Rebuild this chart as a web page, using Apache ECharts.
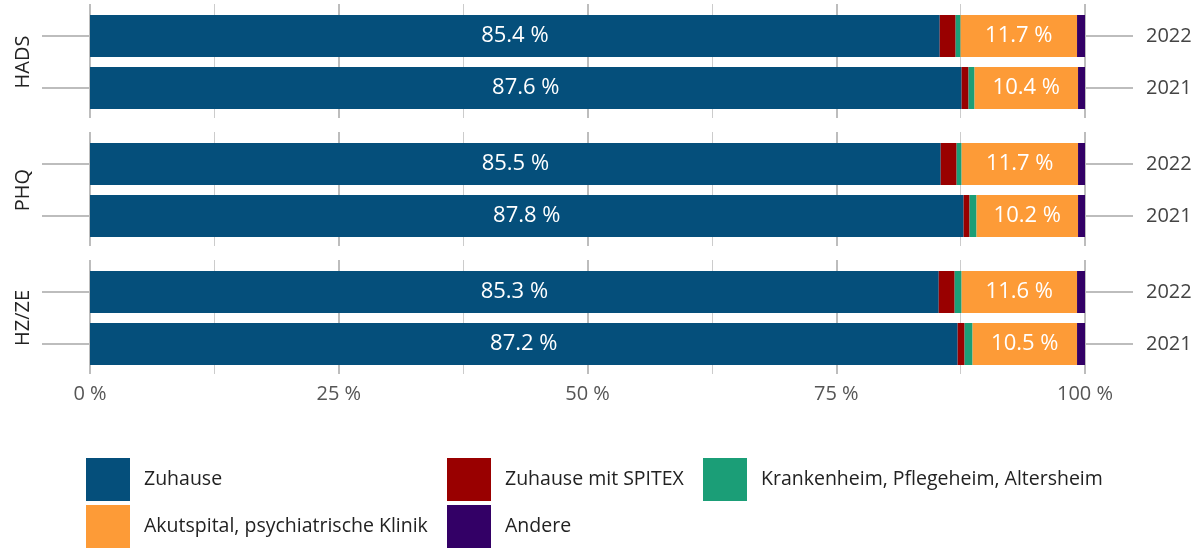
<!DOCTYPE html>
<html>
<head>
<meta charset="utf-8">
<script src="https://cdn.jsdelivr.net/npm/echarts@6/dist/echarts.min.js"></script>
<style>
html, body { margin: 0; padding: 0; background: #fff; }
#container { width: 1204px; height: 548px; }
</style>
</head>
<body>
<div id="container"></div>
<script>
// Daten: je Instrument [2021, 2022]
var facets = ['HADS', 'PHQ', 'HZ/ZE'];
var years = ['2021', '2022'];
var seriesNames = ['Zuhause', 'Zuhause mit SPITEX', 'Krankenheim, Pflegeheim, Altersheim', 'Akutspital, psychiatrische Klinik', 'Andere'];
var colors = ['#054f7b', '#990000', '#1b9e77', '#fd9b37', '#330066'];
var zuhause = [[87.6, 85.4], [87.8, 85.5], [87.2, 85.3]];
var spitex  = [[0.7, 1.6], [0.6, 1.6], [0.7, 1.6]];
var pflege  = [[0.6, 0.5], [0.7, 0.5], [0.8, 0.7]];
var akut    = [[10.4, 11.7], [10.2, 11.7], [10.5, 11.6]];
var andere  = [[0.7, 0.8], [0.7, 0.7], [0.8, 0.8]];
var xTicks = ['0 %', '25 %', '50 %', '75 %', '100 %'];

var font = '"Open Sans", sans-serif';
var allData = [zuhause, spitex, pflege, akut, andere];

var dom = document.getElementById('container');
var myChart = echarts.init(dom);

var grid = [], xAxis = [], yAxis = [], series = [];

// Balken-Grids (0-2)
facets.forEach(function (f, i) {
	grid.push({ left: 90, right: 119, top: 10 + 128 * i, height: 104 });
});
// Hintergrund-Grids für die Gitterlinien (3-5)
facets.forEach(function (f, i) {
	grid.push({ left: 90, right: 119, top: 4 + 128 * i, height: 114 });
});

facets.forEach(function (f, i) {
	xAxis.push({ gridIndex: i, type: 'value', min: 0, max: 100, show: false });
});
facets.forEach(function (f, i) {
	xAxis.push({
		gridIndex: 3 + i, type: 'value', min: 0, max: 100, interval: 25,
		axisLine: { show: false },
		axisTick: { show: false },
		minorTick: { show: false, splitNumber: 2 },
		splitLine: { show: true, lineStyle: { color: '#bdbdbd', width: 2 } },
		minorSplitLine: { show: true, lineStyle: { color: '#cccccc', width: 1 } },
		axisLabel: {
			show: i === 2, margin: 10, color: '#555', fontSize: 20, fontFamily: font,
			formatter: function (v) { return xTicks[Math.round(v / 25)]; }
		}
	});
});

var tickStyle = { show: true, alignWithLabel: true, length: 48, lineStyle: { color: '#bdbdbd', width: 2 } };

// linke y-Achsen (0-2) mit Facettenname
facets.forEach(function (f, i) {
	yAxis.push({
		gridIndex: i, type: 'category', data: years, position: 'left',
		axisLine: { show: false }, axisTick: tickStyle, axisLabel: { show: false },
		name: f, nameLocation: 'middle', nameRotate: 90, nameGap: 57,
		nameTextStyle: { color: '#222', fontSize: 20, fontFamily: font }
	});
});
// rechte y-Achsen (3-5) mit Jahren
facets.forEach(function (f, i) {
	yAxis.push({
		gridIndex: i, type: 'category', data: years, position: 'right',
		axisLine: { show: false }, axisTick: tickStyle,
		axisLabel: { margin: 61, color: '#444', fontSize: 20, fontFamily: font }
	});
});
// Hintergrund y-Achsen (6-8)
facets.forEach(function (f, i) {
	yAxis.push({ gridIndex: 3 + i, type: 'value', min: 0, max: 1, show: false });
});

facets.forEach(function (f, i) {
	seriesNames.forEach(function (name, k) {
		var showLabel = (k === 0 || k === 3);
		series.push({
			type: 'bar', name: name, stack: 'f' + i,
			xAxisIndex: i, yAxisIndex: i,
			barWidth: 42,
			itemStyle: { color: colors[k] },
			label: {
				show: showLabel, position: 'inside', color: '#fff',
				fontSize: 22, fontFamily: font,
				formatter: function (p) { return p.value.toFixed(1) + ' %'; }
			},
			emphasis: { disabled: true },
			data: allData[k][i]
		});
	});
});

// Legende: je Eintrag eine eigene Komponente (3 Spalten, 2 Zeilen)
var legendPos = [[86, 458], [447, 458], [703, 458], [86, 505], [447, 505]];
var legend = seriesNames.map(function (name, k) {
	return {
		left: legendPos[k][0], top: legendPos[k][1],
		padding: 0, itemWidth: 44, itemHeight: 43,
		icon: 'rect', selectedMode: false,
		textStyle: { color: '#222', fontSize: 19.5, fontFamily: font, padding: [0, 0, 0, 9] },
		data: [name]
	};
});

var option = {
	animation: false,
	grid: grid,
	xAxis: xAxis,
	yAxis: yAxis,
	legend: legend,
	series: series
};

myChart.setOption(option);
</script>
</body>
</html>
